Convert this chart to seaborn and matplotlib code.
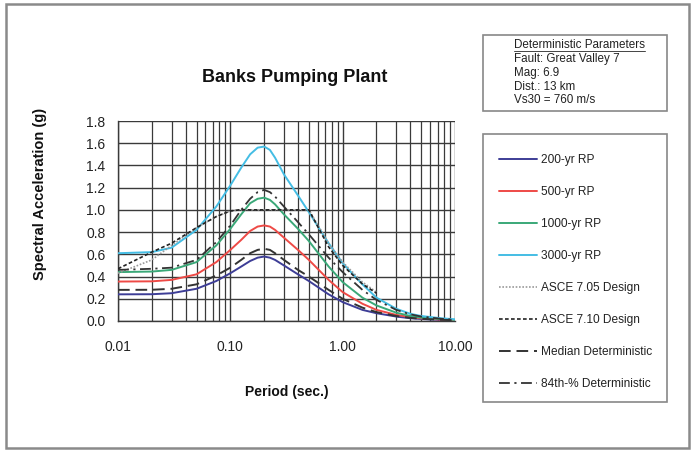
import matplotlib
matplotlib.use("Agg")
import matplotlib.pyplot as plt
import seaborn as sns
import numpy as np
import pandas as pd
from matplotlib.patches import Rectangle
from matplotlib.lines import Line2D
from matplotlib.ticker import FixedLocator, FuncFormatter, LogLocator, NullFormatter

# Spectral periods (sec.)
period = [0.01, 0.02, 0.03, 0.05, 0.075, 0.1, 0.125, 0.15, 0.175, 0.2, 0.225, 0.25,
          0.3, 0.4, 0.5, 0.75, 1.0, 1.5, 2.0, 3.0, 4.0, 5.0, 7.5, 10.0]

# Uniform hazard spectra (g)
rp200 = [0.24, 0.241, 0.25, 0.29, 0.36, 0.43, 0.49, 0.54, 0.57, 0.58, 0.57, 0.55,
         0.50, 0.42, 0.36, 0.24, 0.17, 0.10, 0.07, 0.04, 0.025, 0.018, 0.010, 0.006]
rp500 = [0.355, 0.357, 0.37, 0.42, 0.53, 0.64, 0.73, 0.81, 0.85, 0.86, 0.85, 0.82,
         0.75, 0.64, 0.55, 0.37, 0.26, 0.155, 0.10, 0.055, 0.035, 0.024, 0.013, 0.008]
rp1000 = [0.44, 0.445, 0.46, 0.53, 0.68, 0.83, 0.96, 1.06, 1.10, 1.11, 1.09, 1.05,
          0.96, 0.83, 0.72, 0.49, 0.35, 0.21, 0.14, 0.075, 0.045, 0.030, 0.017, 0.010]
rp3000 = [0.61, 0.62, 0.66, 0.82, 1.03, 1.22, 1.38, 1.50, 1.56, 1.57, 1.54, 1.47,
          1.32, 1.13, 0.98, 0.70, 0.52, 0.33, 0.21, 0.11, 0.065, 0.045, 0.025, 0.015]

# Deterministic spectra (g)
det_median = [0.28, 0.281, 0.29, 0.33, 0.41, 0.48, 0.55, 0.61, 0.64, 0.65, 0.64, 0.61,
              0.55, 0.46, 0.40, 0.28, 0.20, 0.12, 0.08, 0.045, 0.028, 0.020, 0.011, 0.007]
det_84th = [0.46, 0.47, 0.48, 0.55, 0.71, 0.86, 1.00, 1.10, 1.16, 1.18, 1.16, 1.12,
            1.03, 0.89, 0.78, 0.57, 0.44, 0.28, 0.19, 0.10, 0.06, 0.04, 0.02, 0.012]

# Code design spectra
asce_period = [0.01, 0.02, 0.03, 0.05, 0.075, 0.1, 0.12, 0.5, 0.75, 1.0, 1.5, 2.0]
asce705 = [0.43, 0.55, 0.68, 0.84, 0.94, 0.99, 1.0, 1.0, 0.70, 0.53, 0.35, 0.26]
asce710 = [0.47, 0.62, 0.70, 0.84, 0.94, 0.99, 1.0, 1.0, 0.667, 0.50, 0.333, 0.25]

labels = ["200-yr RP", "500-yr RP", "1000-yr RP", "3000-yr RP", "ASCE 7.05 Design",
          "ASCE 7.10 Design", "Median Deterministic", "84th-% Deterministic"]

x_ticks = [0.01, 0.1, 1.0, 10.0]
y_ticks = [0.0, 0.2, 0.4, 0.6, 0.8, 1.0, 1.2, 1.4, 1.6, 1.8]

param_title = "Deterministic Parameters"
param_lines = ["Fault: Great Valley 7", "Mag: 6.9", "Dist.: 13 km", "Vs30 = 760 m/s"]

sns.set_style("white")
plt.rcParams["font.family"] = ["Liberation Sans", "DejaVu Sans"]

W, H = 696, 450
fig = plt.figure(figsize=(W / 100, H / 100), dpi=100)
ax = fig.add_axes([118 / W, 1 - 321 / H, 337 / W, 200 / H])

styles = [
    (period, rp200, "#3d3d96", "-", 1.4),
    (period, rp500, "#ee4a46", "-", 1.4),
    (period, rp1000, "#3aa878", "-", 1.4),
    (period, rp3000, "#44bde4", "-", 1.4),
    (asce_period, asce705, "#9a9a9a", (0, (1, 1)), 1.2),
    (asce_period, asce710, "#222222", (0, (2.2, 1.4)), 1.2),
    (period, det_median, "#333333", (0, (6, 3)), 1.4),
    (period, det_84th, "#333333", (0, (6, 2.5, 1.2, 2.5)), 1.3),
]

handles = []
for (xs, ys, col, ls, lw), lab in zip(styles, labels):
    df = pd.DataFrame({"T": xs, "SA": ys})
    sns.lineplot(data=df, x="T", y="SA", ax=ax, color=col, linestyle=ls,
                 linewidth=lw, zorder=3)
    handles.append(Line2D([], [], color=col, linestyle=ls, linewidth=lw))

ax.set_xscale("log")
ax.set_xlim(0.01, 10.0)
ax.set_ylim(0.0, 1.8)
ax.xaxis.set_major_locator(FixedLocator(x_ticks))
ax.xaxis.set_major_formatter(FuncFormatter(lambda v, p: f"{v:.2f}"))
ax.xaxis.set_minor_locator(LogLocator(base=10, subs=np.arange(2, 10)))
ax.xaxis.set_minor_formatter(NullFormatter())
ax.yaxis.set_major_locator(FixedLocator(y_ticks))
ax.yaxis.set_major_formatter(FuncFormatter(lambda v, p: f"{v:.1f}"))

ax.grid(True, which="major", color="#3a3a3a", linewidth=1.0, zorder=1)
ax.grid(True, which="minor", axis="x", color="#3a3a3a", linewidth=0.9, zorder=1)
ax.tick_params(axis="both", which="major", direction="out", length=5, width=1,
               color="#3a3a3a", labelsize=10, labelcolor="#222222")
ax.tick_params(axis="x", which="major", pad=9)
ax.tick_params(axis="y", which="major", pad=4)
ax.tick_params(axis="x", which="minor", length=0)
for s in ["top", "right"]:
    ax.spines[s].set_visible(False)
for s in ["left", "bottom"]:
    ax.spines[s].set_color("#3a3a3a")
    ax.spines[s].set_linewidth(1.0)
ax.set_xlabel("")
ax.set_ylabel("")

fig.text(295 / W, 1 - 78 / H, "Banks Pumping Plant", ha="center", va="center",
         fontsize=13, fontweight="bold", color="#111111")
fig.text(287 / W, 1 - 392 / H, "Period (sec.)", ha="center", va="center",
         fontsize=10, fontweight="bold", color="#111111")
fig.text(40 / W, 1 - 194 / H, "Spectral Acceleration (g)", ha="center", va="center",
         rotation=90, fontsize=10.5, fontweight="bold", color="#111111")

# outer chart frame
fig.patches.append(Rectangle((6 / W, 1 - 448 / H), 683 / W, 444 / H,
                             transform=fig.transFigure, fill=False,
                             edgecolor="#8a8a8a", linewidth=1.8))

# parameters box
fig.patches.append(Rectangle((483 / W, 1 - 111 / H), 184 / W, 76 / H,
                             transform=fig.transFigure, fill=False,
                             edgecolor="#888888", linewidth=1.2))
ptitle = fig.text(514 / W, 1 - 45.5 / H, param_title, ha="left", va="center",
                  fontsize=8.4, color="#222222")
for i, line in enumerate(param_lines):
    fig.text(514 / W, 1 - (59.3 + 13.6 * i) / H, line, ha="left", va="center",
             fontsize=8.4, color="#222222")

# underline the parameters heading
fig.canvas.draw()
bb = ptitle.get_window_extent().transformed(fig.transFigure.inverted())
fig.add_artist(Line2D([bb.x0, bb.x1], [1 - 51.0 / H, 1 - 51.0 / H],
                      transform=fig.transFigure, color="#444444", linewidth=0.7))

# legend box
fig.patches.append(Rectangle((483 / W, 1 - 401.5 / H), 184 / W, 268 / H,
                             transform=fig.transFigure, fill=False,
                             edgecolor="#888888", linewidth=1.2))
leg = fig.legend(handles, labels, loc="upper left",
                 bbox_to_anchor=(499 / W, 1 - 154 / H), frameon=False,
                 fontsize=8.6, handlelength=3.2, handletextpad=0.3,
                 labelspacing=1.68, borderpad=0.0, borderaxespad=0.0)
for t in leg.get_texts():
    t.set_color("#222222")

fig.savefig("out.png", dpi=100)
